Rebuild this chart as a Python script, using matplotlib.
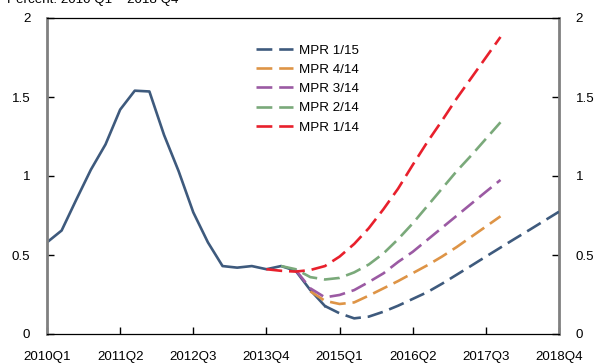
import numpy as np
import matplotlib
matplotlib.use("Agg")
import matplotlib.pyplot as plt

plt.rcParams['font.family'] = ['Liberation Sans', 'DejaVu Sans']

# quarters 2010Q1 .. 2018Q4
quarters = [f"{y}Q{q}" for y in range(2010, 2019) for q in range(1, 5)]
tick_labels = quarters[::5]

# history (solid) 2010Q1 - 2014Q4
hist = [0.58, 0.655, 0.85, 1.04, 1.20, 1.42, 1.54, 1.535, 1.26, 1.03,
        0.77, 0.58, 0.43, 0.42, 0.43, 0.41, 0.43, 0.40, 0.278, 0.177]

# projections: (label, start quarter, values, colour)
mpr_1_15 = [0.177, 0.131, 0.099, 0.11, 0.141, 0.179, 0.222, 0.265, 0.318,
            0.375, 0.432, 0.49, 0.547, 0.604, 0.66, 0.717, 0.774]
mpr_4_14 = [0.27, 0.21, 0.19, 0.20, 0.243, 0.289, 0.335, 0.385, 0.435,
            0.49, 0.55, 0.615, 0.68, 0.745]
mpr_3_14 = [0.405, 0.289, 0.232, 0.247, 0.278, 0.329, 0.384, 0.456, 0.52,
            0.596, 0.672, 0.748, 0.824, 0.90, 0.975]
mpr_2_14 = [0.43, 0.41, 0.36, 0.345, 0.355, 0.39, 0.44, 0.51, 0.60, 0.70,
            0.81, 0.92, 1.03, 1.13, 1.235, 1.34]
mpr_1_14 = [0.41, 0.40, 0.395, 0.405, 0.43, 0.49, 0.57, 0.67, 0.79, 0.92,
            1.07, 1.215, 1.35, 1.49, 1.62, 1.75, 1.88]

series = [
    ("MPR 1/15", "2014Q4", mpr_1_15, "#3e5a7d"),
    ("MPR 4/14", "2014Q3", mpr_4_14, "#de9446"),
    ("MPR 3/14", "2014Q2", mpr_3_14, "#9b5aa3"),
    ("MPR 2/14", "2014Q1", mpr_2_14, "#7aa97a"),
    ("MPR 1/14", "2013Q4", mpr_1_14, "#e8202c"),
]

fig = plt.figure(figsize=(5.99, 3.63), dpi=100)
ax = fig.add_axes([47 / 599, 29 / 363, 512 / 599, 316 / 363])

lw = 1.9
ax.plot(np.arange(len(hist)), hist, color="#3e5a7d", lw=lw, zorder=2)

for label, start, vals, col in series:
    i0 = quarters.index(start)
    x = np.arange(i0, i0 + len(vals))
    line, = ax.plot(x, vals, color=col, lw=lw, label=label, zorder=3)
    line.set_dashes((6, 2.6))

ax.set_xlim(0, len(quarters) - 1)
ax.set_ylim(0, 2)
ax.set_xticks(np.arange(0, len(quarters), 5))
ax.set_xticklabels(tick_labels)
ax.set_yticks([0, 0.5, 1, 1.5, 2])
ax.set_yticklabels(["0", "0.5", "1", "1.5", "2"])

ax.tick_params(axis='both', direction='in', labelsize=9.6, length=5,
               width=1, colors='black')
ax.tick_params(axis='y', left=True, right=True, labelleft=True,
               labelright=True, pad=12)
ax.tick_params(axis='x', pad=12)

for s in ['left', 'right']:
    ax.spines[s].set_color('#808080')
    ax.spines[s].set_linewidth(2)
ax.spines['top'].set_linewidth(0.9)
ax.spines['bottom'].set_linewidth(0.9)

ax.legend(loc='upper left', bbox_to_anchor=(0.408, 0.917), frameon=False,
          fontsize=9.6, handlelength=2.8, handletextpad=0.4,
          labelspacing=0.52, borderpad=0, borderaxespad=0)

# header is cut at the top edge in the original chart
fig.text(0.012, 1.0, "Percent. 2010 Q1 \u2013 2018 Q4", fontsize=9.6,
         va='center', ha='left')

fig.savefig("out.png", dpi=100)
